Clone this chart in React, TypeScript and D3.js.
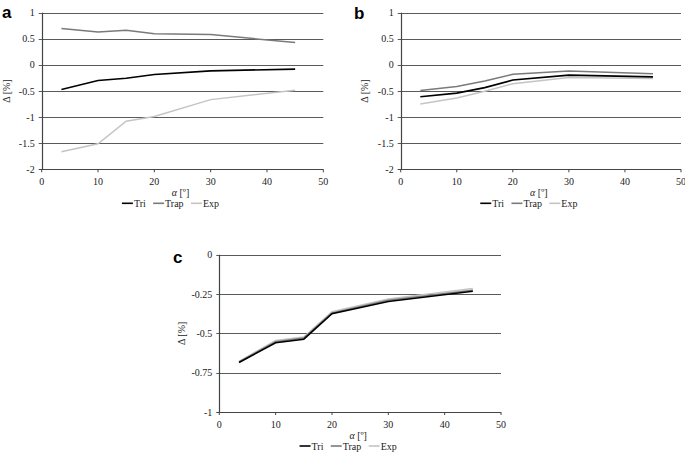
import React from "react";
import * as d3 from "d3";

const alphas = [3.5, 10, 15, 20, 30, 45];
const seriesNames = ["Tri", "Trap", "Exp"];
const seriesColors = ["#000000", "#7a7a7a", "#c4c4c4"];

const aTri = [-0.47, -0.3, -0.255, -0.185, -0.115, -0.08];
const aTrap = [0.695, 0.63, 0.665, 0.595, 0.58, 0.43];
const aExp = [-1.665, -1.51, -1.08, -0.99, -0.665, -0.485];

const bTri = [-0.61, -0.54, -0.435, -0.29, -0.195, -0.23];
const bTrap = [-0.49, -0.415, -0.31, -0.18, -0.115, -0.17];
const bExp = [-0.75, -0.635, -0.505, -0.36, -0.24, -0.26];

const cTri = [-0.685, -0.56, -0.537, -0.375, -0.297, -0.232];
const cTrap = [-0.682, -0.553, -0.53, -0.37, -0.29, -0.226];
const cExp = [-0.678, -0.546, -0.523, -0.362, -0.282, -0.215];

const xTicks = [0, 10, 20, 30, 40, 50];
const yTicksAB = [1, 0.5, 0, -0.5, -1, -1.5, -2];
const yTicksC = [0, -0.25, -0.5, -0.75, -1];

const serif = "'Liberation Serif', 'Times New Roman', serif";

type PanelProps = {
  letter: string;
  left: number;
  right: number;
  top: number;
  bottom: number;
  yDomain: [number, number];
  yTicks: number[];
  data: number[][];
  letterX: number;
  letterY: number;
  yTitleX: number;
};

const legendTextW = [12.2, 18.9, 16.1];

function Panel(p: PanelProps) {
  const x = d3.scaleLinear().domain([0, 50]).range([p.left, p.right]);
  const y = d3.scaleLinear().domain(p.yDomain).range([p.bottom, p.top]);
  const line = d3
    .line<number>()
    .x((_, i) => x(alphas[i]))
    .y((d) => y(d));
  const cx = (p.left + p.right) / 2;
  const segLen = 11;
  const gap = 7;
  const totalW = legendTextW.reduce((s, w) => s + segLen + 1 + w, 0) + gap * 2;
  let lx = cx - 12 - totalW / 2;
  const legendY = p.bottom + 37.5;
  return (
    <g>
      <text
        x={p.letterX}
        y={p.letterY}
        fontFamily="'Liberation Sans', Arial, sans-serif"
        fontWeight="bold"
        fontSize={17}
      >
        {p.letter}
      </text>
      {p.yTicks.map((t) => (
        <g key={t}>
          <line
            x1={p.left - 3}
            x2={p.right}
            y1={Math.round(y(t)) + 0.5}
            y2={Math.round(y(t)) + 0.5}
            stroke={t === p.yDomain[0] ? "#444" : "#5a5a5a"}
            strokeWidth={t === p.yDomain[0] ? 1.2 : 1}
          />
          <text
            x={p.left - 7}
            y={y(t) + 3.5}
            textAnchor="end"
            fontFamily={serif}
            fontSize={10}
            fill="#222"
          >
            {t}
          </text>
        </g>
      ))}
      <line
        x1={Math.round(p.left) + 0.5}
        x2={Math.round(p.left) + 0.5}
        y1={p.top}
        y2={p.bottom}
        stroke="#444"
        strokeWidth={1.2}
      />
      {xTicks.map((t) => (
        <g key={t}>
          <line
            x1={x(t)}
            x2={x(t)}
            y1={p.bottom}
            y2={p.bottom + 3}
            stroke="#444"
          />
          <text
            x={x(t)}
            y={p.bottom + 16}
            textAnchor="middle"
            fontFamily={serif}
            fontSize={10}
            fill="#222"
          >
            {t}
          </text>
        </g>
      ))}
      <text
        x={cx - 2}
        y={p.bottom + 27}
        textAnchor="middle"
        fontFamily={serif}
        fontSize={10}
        fill="#222"
      >
        <tspan fontStyle="italic">α</tspan> [º]
      </text>
      <text
        transform={`translate(${p.yTitleX},${(p.top + p.bottom) / 2}) rotate(-90)`}
        textAnchor="middle"
        fontFamily={serif}
        fontSize={10}
        fill="#222"
      >
        Δ [%]
      </text>
      {[2, 1, 0].map((i) => (
        <path
          key={i}
          d={line(p.data[i]) || ""}
          fill="none"
          stroke={seriesColors[i]}
          strokeWidth={i === 0 ? 1.6 : 1.5}
        />
      ))}
      {legendTextW.map((w, i) => {
        const x0 = lx;
        lx += segLen + 1 + w + gap;
        return (
          <g key={i}>
            <line
              x1={x0}
              x2={x0 + segLen}
              y1={legendY - 3.5}
              y2={legendY - 3.5}
              stroke={seriesColors[i]}
              strokeWidth={1.6}
            />
            <text
              x={x0 + segLen + 1}
              y={legendY}
              fontFamily={serif}
              fontSize={10}
              fill="#222"
            >
              {seriesNames[i]}
            </text>
          </g>
        );
      })}
    </g>
  );
}

export default function App() {
  return (
    <svg
      width={685}
      height={453}
      style={{ position: "absolute", left: 0, top: 0, background: "#fff" }}
    >
      <Panel
        letter="a"
        left={41.7}
        right={323.3}
        top={12.7}
        bottom={169.3}
        yDomain={[-2, 1]}
        yTicks={yTicksAB}
        data={[aTri, aTrap, aExp]}
        letterX={2}
        letterY={18}
        yTitleX={10}
      />
      <Panel
        letter="b"
        left={400.7}
        right={681}
        top={12.7}
        bottom={169.3}
        yDomain={[-2, 1]}
        yTicks={yTicksAB}
        data={[bTri, bTrap, bExp]}
        letterX={354}
        letterY={19}
        yTitleX={368}
      />
      <Panel
        letter="c"
        left={219.3}
        right={501}
        top={254.7}
        bottom={412}
        yDomain={[-1, 0]}
        yTicks={yTicksC}
        data={[cTri, cTrap, cExp]}
        letterX={173}
        letterY={263}
        yTitleX={185}
      />
    </svg>
  );
}
